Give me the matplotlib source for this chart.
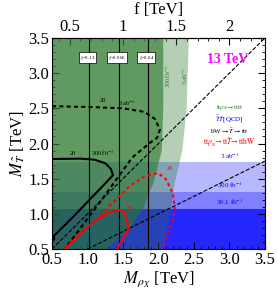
import numpy as np
import matplotlib
matplotlib.use('Agg')
import matplotlib.pyplot as plt
from matplotlib.ticker import MultipleLocator

plt.rcParams['font.family'] = ['Liberation Serif', 'DejaVu Serif']
plt.rcParams['mathtext.fontset'] = 'stix'

# exclusion boundaries, (M_T, M_rho) pairs in TeV
green_3ab_mt = [0.5, 0.9, 1.44, 1.91, 2.5, 3.5]
green_3ab_mr = [2.04, 2.14, 2.22, 2.33, 2.39, 2.42]
green_300_mt = [0.5, 0.81, 1.1, 1.44, 1.91, 2.5, 3.5]
green_300_mr = [1.25, 1.60, 1.78, 1.92, 2.04, 2.06, 2.06]

# QCD pair production bands (upper M_T reach)
blue_lumi = ['3 ab$^{-1}$', '300 fb$^{-1}$', '36.1 fb$^{-1}$']
blue_reach = [1.74, 1.31, 1.07]

# xi = v^2/f^2 lines
xi_labels = ['0.13', '0.066', '0.04']
xi_mrho = [1.02, 1.44, 1.85]

# 20 events contours (M_rho, M_T)
blk_solid_mr = [0.5, 0.9, 1.1, 1.25, 1.33, 1.36, 1.2, 1.0, 0.8, 0.5]
blk_solid_mt = [1.78, 1.785, 1.77, 1.72, 1.64, 1.55, 1.38, 1.17, 0.96, 0.66]
blk_dash_mr = [0.5, 1.0, 1.5, 1.8, 1.95, 2.02, 1.98, 1.88, 1.63, 1.2, 0.68]
blk_dash_mt = [2.53, 2.52, 2.50, 2.45, 2.35, 2.2, 2.08, 2.01, 1.80, 1.2, 0.5]
red_solid_mr = [0.68, 0.9, 1.1, 1.3, 1.45, 1.52, 1.56, 1.57, 1.5, 1.42]
red_solid_mt = [0.5, 0.72, 0.9, 1.02, 1.055, 1.02, 0.9, 0.77, 0.65, 0.5]
red_dot_mr = [1.18, 1.4, 1.6, 1.8, 1.99, 2.1, 2.2, 2.23, 2.2, 2.12, 2.05]
red_dot_mt = [0.98, 1.2, 1.4, 1.53, 1.58, 1.5, 1.3, 1.1, 0.9, 0.7, 0.49]

fig = plt.figure(figsize=(2.78, 2.92), dpi=100)
ax = fig.add_axes([0.187, 0.147, 0.766, 0.723])
ax.set_xlim(0.5, 3.5)
ax.set_ylim(0.5, 3.5)

# blue bands
for top, a in zip(blue_reach, [0.28, 0.3, 0.7]):
    ax.axhspan(0.5, top, color='#0000ff', alpha=a, lw=0, zorder=1)

# green regions
ax.fill_betweenx(green_3ab_mt, 0.5, green_3ab_mr, color='#287828', alpha=0.35, lw=0, zorder=2)
ax.fill_betweenx(green_300_mt, 0.5, green_300_mr, color='#287828', alpha=0.6, lw=0, zorder=2)

# xi lines
for xm, lab in zip(xi_mrho, xi_labels):
    ax.axvline(xm, color='black', lw=0.8, zorder=3)
    ax.text(xm - 0.02, 3.22, r'$\xi$=' + lab, fontsize=3.5, ha='center', va='center', zorder=6,
            bbox=dict(boxstyle='square,pad=0.25', fc='white', ec='black', lw=0.5))

# kinematic lines
mr = np.array([0.5, 3.5])
ax.plot(mr, mr, 'k--', lw=0.8, zorder=4)
mr2 = np.array([1.0, 3.5])
ax.plot(mr2, mr2 / 2, 'k--', lw=0.8, zorder=4)

# contours
ax.plot(blk_solid_mr, blk_solid_mt, color='black', lw=1.5, zorder=5)
ax.plot(blk_solid_mr[-1], blk_solid_mt[-1], 'ko', ms=3, zorder=5)
ax.plot(blk_dash_mr, blk_dash_mt, color='black', lw=1.5, ls=(0, (2, 1.5)), zorder=5)
ax.plot(red_solid_mr, red_solid_mt, color='red', lw=1.5, zorder=5)
ax.plot(red_dot_mr, red_dot_mt, color='red', lw=1.5, ls=(0, (1.5, 1.5)), zorder=5)

# contour labels
ax.text(0.79, 1.84, '20', fontsize=4.5, ha='center', zorder=6)
ax.text(1.21, 1.82, '300 fb$^{-1}$', fontsize=4.5, ha='center', zorder=6)
ax.text(1.21, 2.59, '20', fontsize=4.5, ha='center', zorder=6)
ax.text(1.55, 2.53, '3 ab$^{-1}$', fontsize=4.5, ha='center', zorder=6)
ax.text(1.58, 1.06, '20', fontsize=4.5, color='red', ha='center', zorder=6)
ax.text(2.16, 1.63, '20', fontsize=4.5, color='red', ha='center', zorder=6)
ax.text(2.14, 2.95, '300 fb$^{-1}$', fontsize=4.5, color='#287828', rotation=90, ha='center', va='center', zorder=6)
ax.text(2.38, 2.95, '3 ab$^{-1}$', fontsize=4.5, color='#287828', rotation=90, ha='center', va='center', zorder=6)

# legend-like texts
ax.text(2.97, 3.19, '13 TeV', fontsize=10, color='magenta', fontweight='bold', ha='center', va='center', zorder=6)
ax.text(3.0, 2.51, r'$\mathrm{tt}\rho_X\!\rightarrow\!\mathrm{tttt}$', fontsize=5, color='#287828', ha='center', va='center')
ax.text(3.0, 2.35, r'$\bar{\tilde{T}}\tilde{T}$[QCD]', fontsize=5, color='blue', ha='center', va='center')
ax.text(3.0, 2.18, r'bW$\rightarrow\tilde{T}\rightarrow$ttt', fontsize=5, color='black', ha='center', va='center')
ax.text(3.0, 2.02, r'$\mathrm{tt}\rho_X\!\rightarrow\!\mathrm{tt}\tilde{T}\!\rightarrow\!\mathrm{tthW}$', fontsize=5.5, color='red', ha='center', va='center')
for lab, yy in zip(blue_lumi, [1.82, 1.41, 1.17]):
    ax.text(3.0, yy, lab, fontsize=5, color='blue', ha='center', va='center', zorder=6)

# axes cosmetics
ax.xaxis.set_major_locator(MultipleLocator(0.5))
ax.yaxis.set_major_locator(MultipleLocator(0.5))
ax.xaxis.set_minor_locator(MultipleLocator(0.1))
ax.yaxis.set_minor_locator(MultipleLocator(0.1))
ax.xaxis.set_major_formatter(plt.FuncFormatter(lambda v, p: f'{v:.1f}'))
ax.yaxis.set_major_formatter(plt.FuncFormatter(lambda v, p: f'{v:.1f}'))
ax.tick_params(which='both', direction='in', right=True, labelsize=12, pad=2)
ax.tick_params(which='major', length=5)
ax.tick_params(which='minor', length=2.5)
ax.set_xlabel(r'$M_{\rho_X}$ [TeV]', fontsize=12, labelpad=1)
ax.set_ylabel(r'$M_{\tilde{T}}$ [TeV]', fontsize=12, labelpad=1)

sec = ax.secondary_xaxis('top', functions=(lambda m: m / 1.5, lambda f: f * 1.5))
sec.set_xticks([0.5, 1, 1.5, 2])
sec.set_xticklabels(['0.5', '1', '1.5', '2'])
sec.xaxis.set_minor_locator(MultipleLocator(0.1))
sec.tick_params(which='both', direction='in', labelsize=12, pad=2)
sec.tick_params(which='major', length=5)
sec.tick_params(which='minor', length=2.5)
sec.set_xlabel('f [TeV]', fontsize=12, labelpad=4)

fig.savefig('out.png', dpi=100)
